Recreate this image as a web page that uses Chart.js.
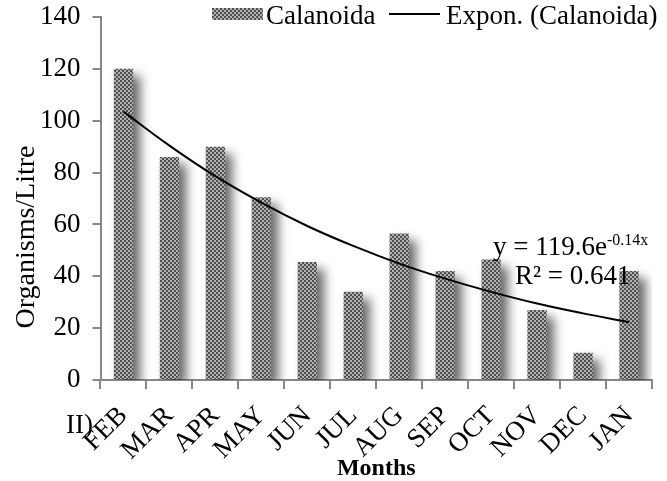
<!DOCTYPE html>
<html>
<head>
<meta charset="utf-8">
<script src="https://cdn.jsdelivr.net/npm/chart.js@4.4.1/dist/chart.umd.min.js"></script>
<style>
  html, body { margin: 0; padding: 0; background: #fff; }
  #wrap { width: 667px; height: 481px; }
</style>
</head>
<body>
<div id="wrap"><canvas id="myChart" width="667" height="481"></canvas></div>
<script>
var months = ['FEB', 'MAR', 'APR', 'MAY', 'JUN', 'JUL', 'AUG', 'SEP', 'OCT', 'NOV', 'DEC', 'JAN'];
var calanoidaData = [120, 86, 90, 70.5, 45.5, 34, 56.5, 42, 46.5, 27, 10.5, 42];
// exponential trendline
var trendData = [103.5, 90.4, 78.6, 68.4, 59.4, 51.7, 44.9, 39.1, 34.0, 29.5, 25.7, 22.3];
var yTicks = [0, 20, 40, 60, 80, 100, 120, 140];

var serif = '"Liberation Serif", "Times New Roman", serif';

function checkerPattern(ctx) {
    var c = document.createElement('canvas');
    c.width = 4; c.height = 4;
    var p = c.getContext('2d');
    p.fillStyle = '#b0b0b0';
    p.fillRect(0, 0, 4, 4);
    p.fillStyle = '#505050';
    p.fillRect(0, 0, 2, 2);
    p.fillRect(2, 2, 2, 2);
    return ctx.createPattern(c, 'repeat');
}

var ctx = document.getElementById('myChart').getContext('2d');
var pattern = checkerPattern(ctx);

var barShadow = {
    id: 'barShadow',
    beforeDatasetDraw: function(chart, args) {
        if (args.meta.type === 'bar') {
            var c = chart.ctx;
            c.save();
            c.shadowColor = 'rgba(0, 0, 0, 0.6)';
            c.shadowBlur = 11;
            c.shadowOffsetX = 7;
            c.shadowOffsetY = 7;
        }
    },
    afterDatasetDraw: function(chart, args) {
        if (args.meta.type === 'bar') {
            chart.ctx.restore();
        }
    }
};

var extras = {
    id: 'extras',
    afterDraw: function(chart) {
        var c = chart.ctx;
        c.save();
        c.fillStyle = '#000';
        c.textBaseline = 'alphabetic';

        // legend
        c.fillStyle = pattern;
        c.fillRect(212, 8, 51, 12);
        c.fillStyle = '#000';
        c.font = '27px ' + serif;
        c.textAlign = 'left';
        c.fillText('Calanoida', 266, 24);
        c.strokeStyle = '#000';
        c.lineWidth = 2;
        c.beginPath();
        c.moveTo(389, 14);
        c.lineTo(440, 14);
        c.stroke();
        c.fillText('Expon. (Calanoida)', 446, 24);

        // equation
        c.fillText('y = 119.6e', 493, 255);
        var w = c.measureText('y = 119.6e').width;
        c.font = '16px ' + serif;
        c.fillText('-0.14x', 493 + w, 245);
        c.font = '27px ' + serif;
        c.fillText('R\u00B2 = 0.641', 515, 284);

        // panel mark
        c.fillText('II)', 66, 433);

        // y title
        c.font = '28px ' + serif;
        c.translate(34, 237);
        c.rotate(-Math.PI / 2);
        c.textAlign = 'center';
        c.fillText('Organisms/Litre', 0, 0);
        c.restore();
    }
};

new Chart(ctx, {
    type: 'bar',
    data: {
        labels: months,
        datasets: [
            {
                type: 'line',
                label: 'Expon. (Calanoida)',
                data: trendData,
                borderColor: '#000',
                borderWidth: 2,
                pointRadius: 0,
                tension: 0.4,
                fill: false,
                order: 0
            },
            {
                label: 'Calanoida',
                data: calanoidaData,
                backgroundColor: pattern,
                borderWidth: 0,
                barPercentage: 0.42,
                categoryPercentage: 1.0,
                order: 1
            }
        ]
    },
    options: {
        responsive: false,
        animation: false,
        layout: { padding: { top: 17, left: 28, right: 15, bottom: 0 } },
        plugins: {
            legend: { display: false },
            tooltip: { enabled: false }
        },
        scales: {
            x: {
                afterFit: function(scale) {
                    scale.height = 101;
                },
                grid: { display: true, drawOnChartArea: false, drawTicks: true, tickLength: 9, color: '#888', lineWidth: 2 },
                border: { color: '#888', width: 2 },
                ticks: {
                    color: '#000',
                    font: { family: serif, size: 27 },
                    minRotation: 45,
                    maxRotation: 45,
                    autoSkip: false,
                    padding: 11
                },
                title: {
                    display: true,
                    text: 'Months',
                    color: '#000',
                    font: { family: serif, size: 24, weight: 'bold' },
                    padding: { top: 0, bottom: -2 }
                }
            },
            y: {
                min: 0,
                max: 140,
                afterBuildTicks: function(scale) {
                    scale.ticks = yTicks.map(function(v) { return { value: v }; });
                },
                afterFit: function(scale) {
                    scale.paddingTop = 0;
                },
                grid: { display: true, drawOnChartArea: false, drawTicks: true, tickLength: 8, color: '#888', lineWidth: 2 },
                border: { color: '#888', width: 2 },
                ticks: {
                    color: '#000',
                    font: { family: serif, size: 27 },
                    padding: 12
                }
            }
        }
    },
    plugins: [barShadow, extras]
});
</script>
</body>
</html>
